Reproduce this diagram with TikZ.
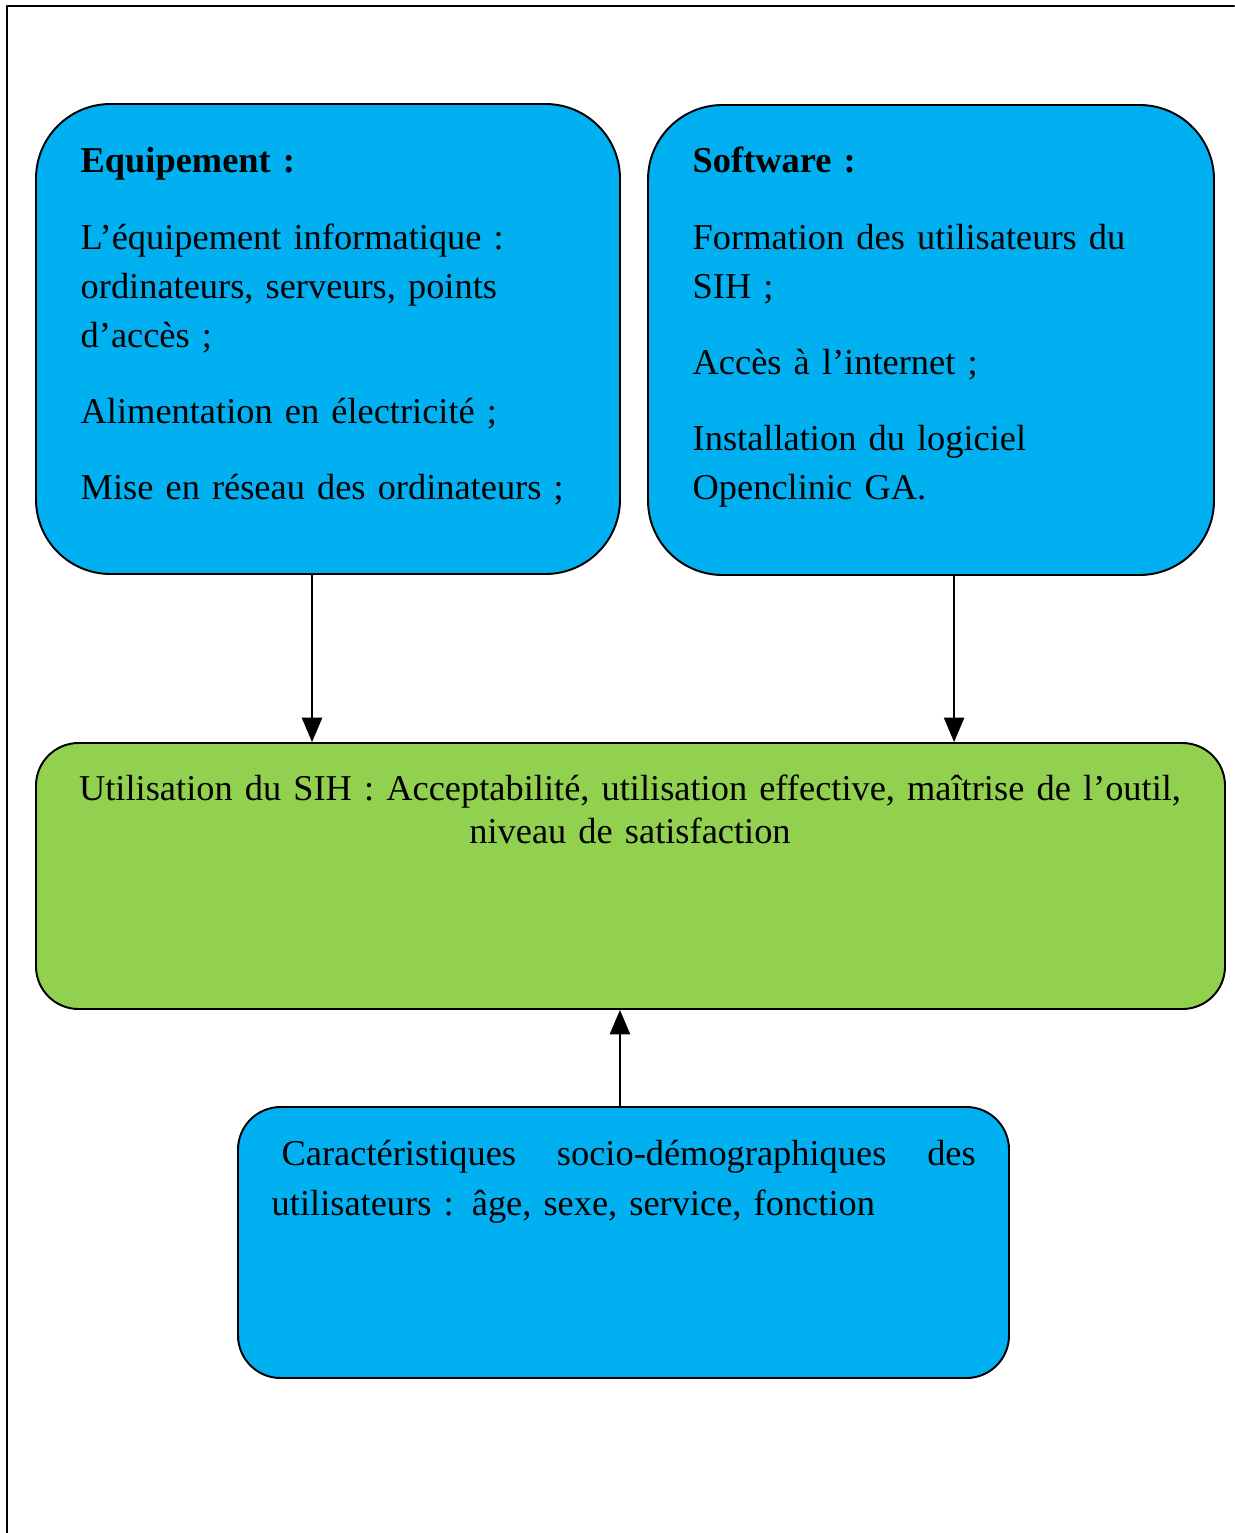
\documentclass[tikz,border=0pt]{standalone}
\usepackage{fontspec}
\setmainfont{Liberation Serif}
\usetikzlibrary{arrows}
\definecolor{boxblue}{HTML}{00B0F0}
\definecolor{boxgreen}{HTML}{92D050}
\newcommand{\px}{0.2817pt}

\begin{document}
\fontsize{10.25}{13.85}\selectfont
\begin{tikzpicture}[line cap=round,line join=round,>=triangle 45,x=0.2817pt,y=-0.2817pt,
  bluebox/.style={draw, fill=boxblue, line width=0.55pt, rounded corners=21pt, inner sep=0pt},
  greenbox/.style={draw, fill=boxgreen, line width=0.55pt, rounded corners=12pt, inner sep=0pt},
  txt/.style={inner sep=0pt, align=left},
  arr/.style={->, line width=0.55pt}]
\useasboundingbox (0,0) rectangle (1234,1533);
\draw [line width=0.7pt] (7,1533)--(7,6)--(1234,6);
% boxes
\node[bluebox, minimum width=584*\px, minimum height=470*\px] (equip) at (328,339) {};
\node[bluebox, minimum width=566*\px, minimum height=470*\px] (soft) at (931,340) {};
\node[greenbox, minimum width=1189*\px, minimum height=266*\px] (util) at (630.5,876) {};
\node[bluebox, rounded corners=12pt, minimum width=771*\px, minimum height=271*\px] (carac) at (623.5,1242.5) {};
% texts
\node[txt, anchor=base west, text width=540*\px] (equiptxt) at (80,173) {\textbf{Equipement :}\\[7.6pt]
L’équipement informatique :\\ ordinateurs, serveurs, points\\ d’accès ;\\[7.6pt]
Alimentation en électricité ;\\[7.6pt]
Mise en réseau des ordinateurs ;};
\node[txt, anchor=base west, text width=520*\px] (softtxt) at (692,173) {\textbf{Software :}\\[7.6pt]
Formation des utilisateurs du\\ SIH ;\\[7.6pt]
Accès à l’internet ;\\[7.6pt]
Installation du logiciel\\ Openclinic GA.};
\node[txt, anchor=base, align=center, text width=1189*\px] (utiltxt) at (630,800) {Utilisation du SIH : Acceptabilité, utilisation effective, maîtrise de l’outil,\\[-1.6pt]
niveau de satisfaction};
\node[txt, anchor=base west, text width=704*\px] (caractxt) at (271,1165) {\hbox to \hsize{\hspace{2.8pt}Caractéristiques\hfill socio-démographiques\hfill des}\\[0.3pt]
utilisateurs : âge, sexe, service, fonction};
% arrows
\draw[arr] ([xshift=-4.5pt]equip.south) -- ([xshift=-4.5pt]equip.south |- util.north);
\draw[arr] ([xshift=6.5pt]soft.south) -- ([xshift=6.5pt]soft.south |- util.north);
\draw[arr] ([xshift=-1pt]carac.north) -- ([xshift=-1pt]carac.north |- util.south);
\end{tikzpicture}
\end{document}
